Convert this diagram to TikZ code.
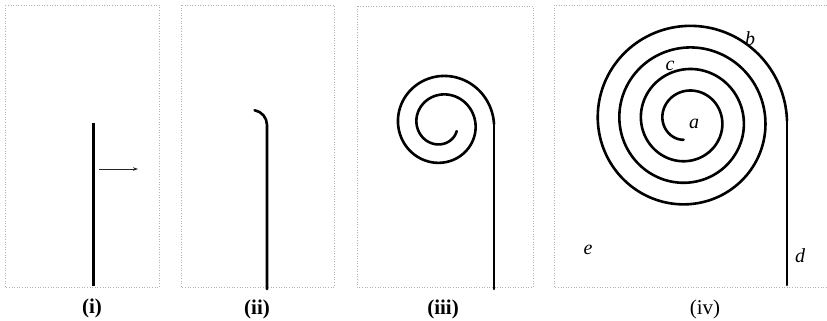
\documentclass[tikz,border=0pt]{standalone}
\usepackage{fontspec}
\setmainfont{Liberation Serif}
\usepackage{tikz}
\usetikzlibrary{arrows.meta}
\tikzset{
  frame/.style={gray!60, line width=0.6pt, dash pattern=on 0.6pt off 2pt},
  rod/.style={line width=2.6pt, line cap=round, line join=round},
  push/.style={-{Stealth[length=5pt,width=3.5pt]}, gray!30!black, line width=0.7pt},
  caption/.style={font=\fontsize{21}{24}\selectfont\bfseries},
  pointlabel/.style={font=\fontsize{20}{22}\selectfont\itshape}
}

\begin{document}
\begin{tikzpicture}[x=1pt, y=-1pt]
    \useasboundingbox (0,0) rectangle (827,321);

      % panel frames
      \draw[frame] (5,5) rectangle (159,287);
      \draw[frame] (181,5) rectangle (334,287);
      \draw[frame] (357,6) rectangle (533,287);
      \draw[frame] (827,5) -- (554,5) -- (554,287) -- (827,287);

      % (i) straight rod and the push
      \coordinate (footi) at (93,286);
      \coordinate (topi) at (93,123);
      \draw[rod, line width=3pt, line cap=butt] (footi) -- (topi);
      \coordinate (pushtail) at (99,169);
      \coordinate (pushhead) at (138,169);
      \draw[push] (pushtail) -- (pushhead);

      % (ii) tip starts to curl
      \coordinate (footii) at (267,289);
      \coordinate (topii) at (267,125);
      \draw[rod] (footii) -- (topii) arc[start angle=0, end angle=-80, radius=15];

      % (iii) two turns
      \def\cxiii{441.4}
      \def\cyiii{124}
      \coordinate (footiii) at (494,289);
      \coordinate (topiii) at (494,124);
      \draw[rod] (footiii) -- (topiii);
      \draw[rod] plot[domain=0:695, samples=300, smooth, variable=\t]
        ({\cxiii + (52.6-0.0514*\t)*cos(\t)}, {\cyiii - (52.6-0.0514*\t)*sin(\t)});

      % (iv) fully rolled
      \def\cxiv{687}
      \def\cyiv{120.5}
      \coordinate (footiv) at (787,285);
      \coordinate (topiv) at (787,120.5);
      \draw[rod] (footiv) -- (topiv);
      \draw[rod] plot[domain=0:1340, samples=500, smooth, variable=\t]
        ({\cxiv + (100-0.06*\t)*cos(\t)}, {\cyiv - (100-0.06*\t)*sin(\t)});

      % letters on (iv)
      \node[pointlabel] (ptA) at (694,124) {a};
      \node[pointlabel] (ptB) at (750,39) {b};
      \node[pointlabel] (ptC) at (670,66) {c};
      \node[pointlabel] (ptD) at (800,256) {d};
      \node[pointlabel] (ptE) at (588,250) {e};

      % captions
      \node[caption] (capi) at (92,308) {(i)};
      \node[caption] (capii) at (257,309) {(ii)};
      \node[caption] (capiii) at (443,309) {(iii)};
      \node[caption, font=\fontsize{21}{24}\selectfont] (capiv) at (705,309) {(iv)};

    \end{tikzpicture}
\end{document}
